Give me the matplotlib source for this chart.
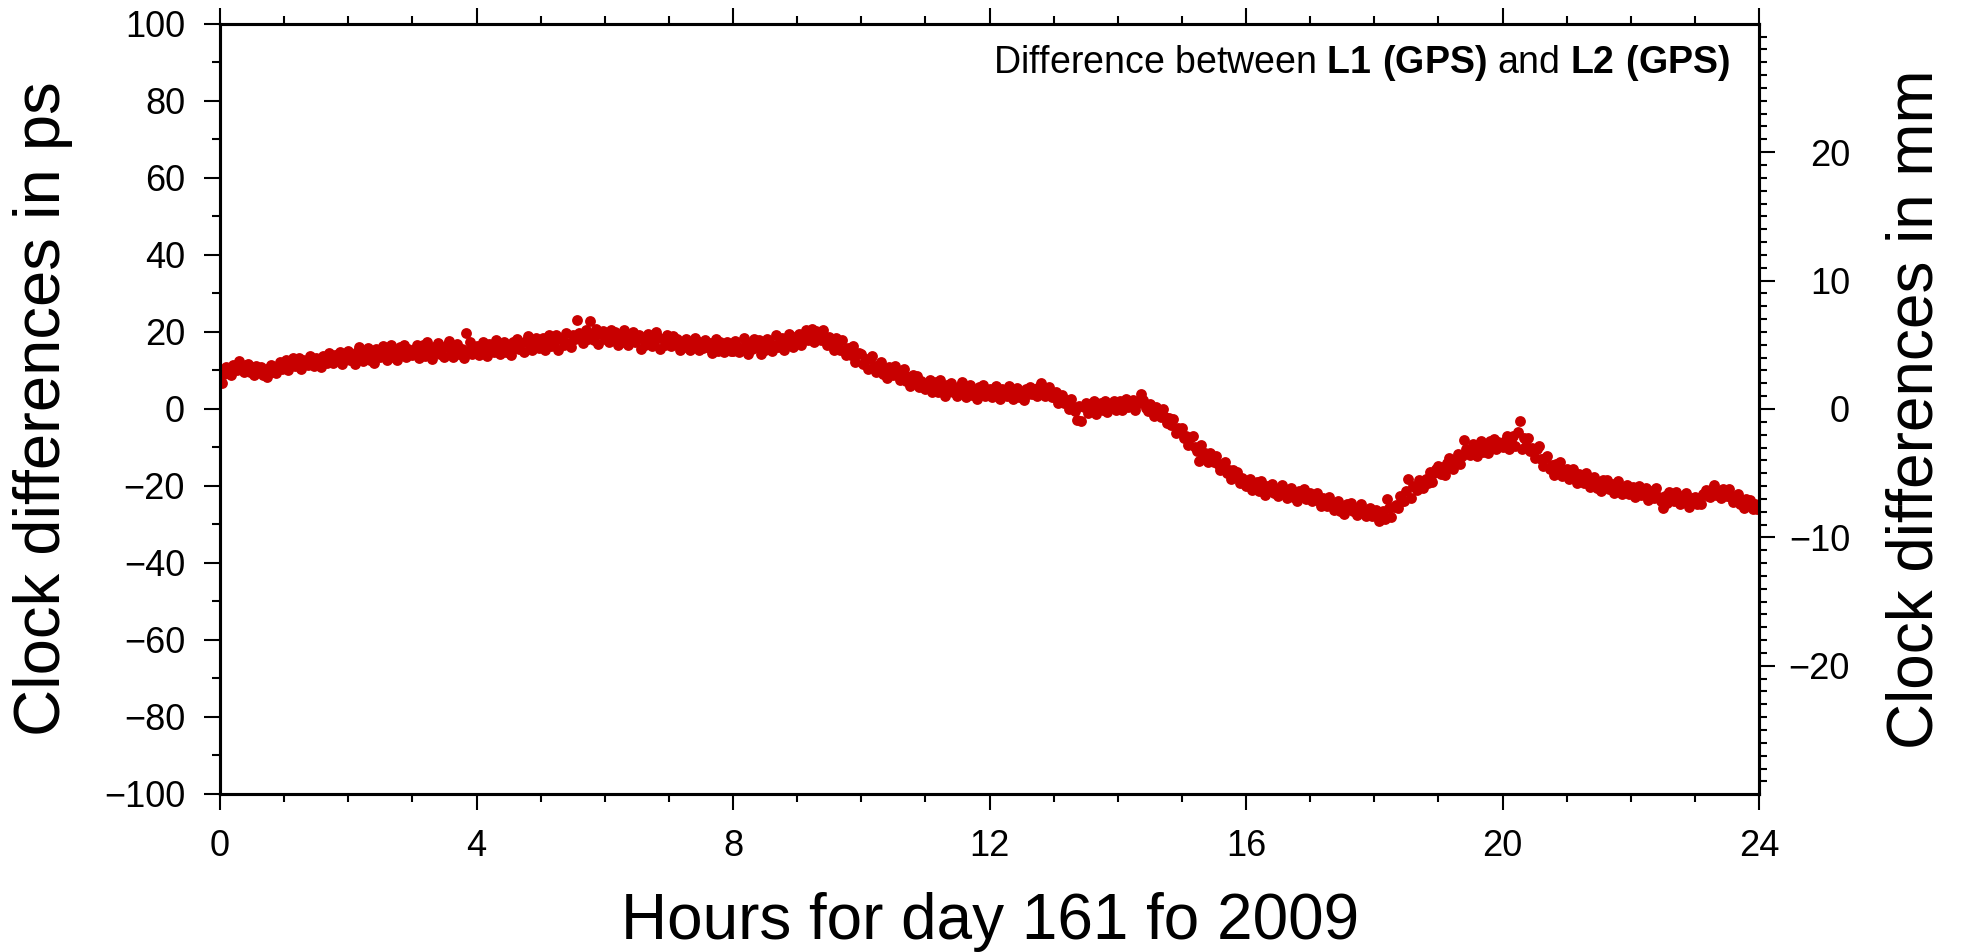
import matplotlib.pyplot as plt
from matplotlib.ticker import MultipleLocator
import numpy as np

plt.rcParams["font.family"] = ["Liberation Sans", "DejaVu Sans"]
plt.rcParams["mathtext.fontset"] = "custom"
plt.rcParams["mathtext.rm"] = "Liberation Sans"
plt.rcParams["mathtext.bf"] = "Liberation Sans:bold"

PS_TO_MM = 0.299792458  # distance light travels in 1 ps
STEP_MIN = 2  # sampling interval of the clock estimates

# L1 - L2 clock differences in ps, one value every 2 minutes
ps_00_06 = [
    8.6, 6.8, 9.2, 10.8, 9.4, 8.7, 11.3, 10.7, 10.0, 12.4, 10.9, 9.7, 11.4, 11.8, 9.7,
    10.9, 8.8, 11.1, 9.6, 11.0, 8.9, 10.1, 8.4, 10.6, 11.5, 9.6, 9.3, 10.7, 12.1, 10.5,
    11.1, 12.7, 10.2, 12.2, 13.3, 11.1, 11.7, 13.3, 10.4, 12.7, 12.5, 11.3, 13.8, 11.9, 11.1,
    13.3, 12.7, 10.9, 13.8, 13.2, 12.0, 14.5, 12.8, 11.9, 13.9, 12.6, 14.9, 11.8, 13.8, 14.4,
    15.1, 12.6, 14.1, 11.7, 14.8, 16.1, 13.2, 12.4, 14.7, 15.8, 12.6, 14.3, 11.9, 15.5, 14.9,
    13.5, 16.3, 14.1, 12.7, 15.4, 16.7, 13.5, 15.0, 12.7, 16.1, 14.6, 16.5, 13.5, 15.5, 14.2,
    13.9, 15.5, 16.7, 13.3, 14.9, 16.5, 13.7, 17.3, 15.3, 13.1, 16.2, 14.7, 17.1, 14.3, 15.5,
    13.6, 16.5, 17.6, 14.6, 13.4, 16.0, 16.9, 14.2, 15.5, 13.2, 19.8, 15.0, 17.5, 14.2, 15.9,
    16.4, 13.9, 15.9, 17.5, 15.0, 13.7, 16.9, 15.9, 14.7, 18.0, 15.6, 14.2, 16.7, 17.5, 14.7,
    16.5, 13.9, 17.5, 15.8, 18.1, 15.5, 17.1, 14.7, 17.6, 18.9, 16.1, 15.3, 17.0, 18.5, 15.9,
    16.5, 18.5, 15.2, 17.8, 19.3, 16.4, 17.2, 19.2, 15.4, 18.4, 18.1, 16.5, 19.8, 17.2, 16.2,
    19.1, 18.2, 23.1, 19.7, 18.8, 17.2, 20.5, 18.2, 22.8, 19.6, 17.9, 20.9, 16.8, 19.4, 20.2,
]
ps_06_12 = [
    18.2, 19.5, 17.5, 20.5, 18.5, 20.1, 16.6, 18.9, 17.4, 20.6, 19.2, 16.6, 17.9, 20.1, 17.3,
    18.7, 19.3, 15.7, 18.1, 16.5, 19.6, 18.6, 16.3, 17.1, 20.0, 18.7, 15.6, 18.1, 16.5, 19.1,
    17.8, 16.4, 19.0, 17.0, 18.1, 15.4, 17.2, 16.0, 18.2, 17.5, 15.3, 16.2, 18.5, 17.6, 15.2,
    16.7, 15.8, 17.9, 16.0, 17.2, 14.6, 16.5, 18.1, 15.1, 17.3, 15.9, 14.7, 17.5, 16.4, 15.1,
    15.0, 17.7, 16.3, 14.7, 15.6, 18.5, 17.3, 14.4, 17.0, 15.5, 18.1, 16.0, 17.8, 14.2, 17.0,
    15.2, 18.2, 17.5, 15.1, 16.7, 19.2, 16.0, 17.4, 18.5, 15.4, 16.9, 19.5, 18.0, 16.2, 18.8,
    17.5, 19.5, 16.6, 19.0, 20.5, 18.0, 18.8, 20.7, 17.4, 20.2, 19.6, 17.9, 20.5, 17.8, 16.6,
    18.8, 17.6, 15.2, 18.4, 17.2, 15.3, 17.9, 15.4, 13.9, 15.9, 14.0, 16.3, 12.2, 14.2, 14.5,
    14.4, 11.8, 13.0, 10.4, 12.9, 13.7, 10.8, 9.6, 11.5, 12.1, 9.0, 10.4, 8.0, 11.0, 10.3,
    8.8, 11.1, 8.9, 7.5, 9.5, 10.5, 7.2, 8.4, 5.9, 8.8, 7.1, 8.6, 5.6, 7.2, 5.8,
    5.3, 6.7, 7.6, 4.4, 5.7, 7.0, 4.3, 7.5, 5.6, 3.4, 6.1, 4.7, 6.8, 4.3, 5.3,
    3.5, 6.0, 7.0, 4.2, 3.1, 5.3, 6.1, 3.6, 4.7, 2.6, 5.6, 4.1, 6.3, 3.3, 4.9,
]
ps_12_18 = [
    5.2, 3.2, 4.6, 5.9, 3.9, 2.7, 5.3, 4.5, 3.3, 6.0, 4.0, 2.7, 4.7, 5.4, 3.0,
    4.4, 2.3, 5.3, 4.0, 5.8, 4.0, 5.3, 3.4, 5.8, 6.8, 4.4, 3.5, 4.6, 5.6, 3.2,
    3.1, 4.5, 1.6, 3.3, 3.7, 1.6, 2.4, 0.1, 2.5, 0.5, -0.5, -2.9, 0.7, -3.0, 0.5,
    1.6, -1.1, 1.2, -0.3, 2.0, -1.2, 0.7, 1.6, -0.3, 2.1, -0.7, 1.1, 0.4, 2.1, -0.2,
    0.5, 2.0, -0.3, 1.5, 2.5, 0.6, 1.1, 2.4, -0.2, 1.9, 1.5, 3.8, 2.3, 0.3, -0.6,
    1.3, 0.3, -1.8, 0.6, -0.4, -2.0, 0.0, -2.2, -3.6, -2.3, -4.2, -2.7, -6.2, -5.0, -5.1,
    -5.0, -7.5, -6.9, -9.3, -7.5, -7.1, -9.8, -10.9, -13.4, -9.3, -12.2, -11.4, -13.7, -11.4, -12.4,
    -13.9, -12.3, -14.4, -15.9, -14.3, -13.7, -16.6, -15.9, -18.1, -15.9, -17.5, -16.4, -19.1, -17.8, -19.2,
    -20.1, -19.0, -18.1, -21.1, -20.1, -19.0, -21.3, -18.6, -20.4, -22.4, -20.0, -21.3, -19.5, -21.8, -21.0,
    -22.7, -20.4, -19.7, -22.1, -23.1, -21.1, -20.6, -22.9, -21.9, -23.8, -21.2, -22.5, -20.7, -23.4, -22.2,
    -21.9, -24.0, -22.8, -21.9, -24.0, -25.2, -23.0, -23.9, -25.1, -22.9, -25.0, -26.3, -24.5, -24.0, -26.4,
    -25.1, -27.3, -24.6, -26.1, -24.5, -26.6, -25.6, -27.6, -25.6, -24.8, -27.0, -27.8, -26.6, -25.6, -27.8,
]
ps_18_24 = [
    -27.6, -26.3, -29.0, -27.3, -26.4, -28.5, -23.4, -25.6, -28.1, -25.4, -25.0, -25.6, -22.5, -23.8, -24.0,
    -21.2, -18.2, -23.0, -19.9, -20.3, -21.1, -18.4, -19.9, -20.4, -18.2, -19.1, -16.3, -19.0, -16.6, -15.5,
    -14.8, -16.8, -15.1, -17.2, -14.1, -12.7, -15.0, -15.5, -13.0, -11.7, -14.2, -12.3, -8.0, -10.5, -10.8,
    -11.9, -9.2, -11.1, -12.2, -9.7, -8.3, -11.1, -9.5, -11.5, -8.2, -9.6, -7.8, -10.5, -8.6, -9.7,
    -10.0, -8.3, -7.0, -10.4, -8.7, -6.9, -9.6, -5.9, -3.2, -10.3, -7.5, -9.5, -7.6, -10.9, -10.2,
    -12.7, -10.3, -9.7, -13.1, -14.8, -12.7, -12.3, -15.5, -14.6, -17.2, -14.2, -15.9, -13.8, -17.3, -15.9,
    -15.7, -18.1, -16.6, -15.5, -17.8, -19.2, -16.8, -17.8, -19.1, -16.5, -18.8, -20.2, -18.3, -17.7, -20.4,
    -19.0, -21.4, -18.5, -20.1, -18.4, -20.8, -19.6, -21.8, -19.6, -18.6, -21.1, -22.1, -20.8, -19.7, -22.1,
    -21.6, -20.2, -22.9, -21.0, -20.0, -22.3, -21.9, -20.4, -23.6, -21.4, -21.7, -23.1, -20.6, -22.9, -23.8,
    -25.8, -22.5, -24.5, -21.6, -22.6, -24.0, -21.5, -23.5, -24.6, -22.7, -24.2, -21.9, -25.4, -23.6, -23.0,
    -22.9, -24.6, -23.2, -24.7, -22.2, -21.0, -22.7, -22.9, -20.8, -19.7, -22.3, -21.4, -23.2, -20.9, -21.4,
    -22.6, -20.9, -22.9, -24.2, -22.7, -22.1, -24.6, -23.7, -25.6, -23.4, -24.7, -23.6, -26.0, -24.8, -26.0,
    -25.1,
]

clock_ps = np.array(ps_00_06 + ps_06_12 + ps_12_18 + ps_18_24)
hours = np.arange(len(clock_ps)) * STEP_MIN / 60.0

fig = plt.figure(figsize=(19.63, 9.52), dpi=100)
ax = fig.add_axes([0.1121, 0.166, 0.784, 0.8088])

ax.plot(hours, clock_ps, ls="none", marker="o", ms=7.8, mew=0, color="#c80000")

ax.set_xlim(0, 24)
ax.set_ylim(-100, 100)
ax.xaxis.set_major_locator(MultipleLocator(4))
ax.xaxis.set_minor_locator(MultipleLocator(1))
ax.yaxis.set_major_locator(MultipleLocator(20))
ax.yaxis.set_minor_locator(MultipleLocator(10))
ax.tick_params(which="both", direction="out", top=True, right=False,
               labelsize=26, pad=13.7, width=1.5, color="black")
ax.tick_params(which="major", length=11.5)
ax.tick_params(which="minor", length=5.8)

# second scale: same differences expressed as distance
ax2 = ax.twinx()
ax2.set_ylim(-100 * PS_TO_MM, 100 * PS_TO_MM)
ax2.yaxis.set_major_locator(MultipleLocator(10))
ax2.yaxis.set_minor_locator(MultipleLocator(1))
ax2.tick_params(which="both", direction="out", labelsize=26, pad=54, width=1.5)
ax2.tick_params(which="major", length=11.5)
ax2.tick_params(which="minor", length=5.8)
for lab in ax2.get_yticklabels():
    lab.set_horizontalalignment("right")

for a in (ax, ax2):
    for sp in a.spines.values():
        sp.set_linewidth(2.2)

ax.text(0.981, 0.936,
        r"Difference between $\mathbf{L1\ (GPS)}$ and $\mathbf{L2\ (GPS)}$",
        transform=ax.transAxes, ha="right", va="baseline", fontsize=27)

fig.text(0.5042, 0.0137, "Hours for day 161 fo 2009", ha="center", va="baseline", fontsize=46)
fig.text(0.022, 0.5705, "Clock differences in ps", rotation=90, ha="center", va="center", fontsize=47)
fig.text(0.976, 0.5705, "Clock differences in mm", rotation=90, ha="center", va="center", fontsize=46)

fig.savefig("out.png", dpi=100)
